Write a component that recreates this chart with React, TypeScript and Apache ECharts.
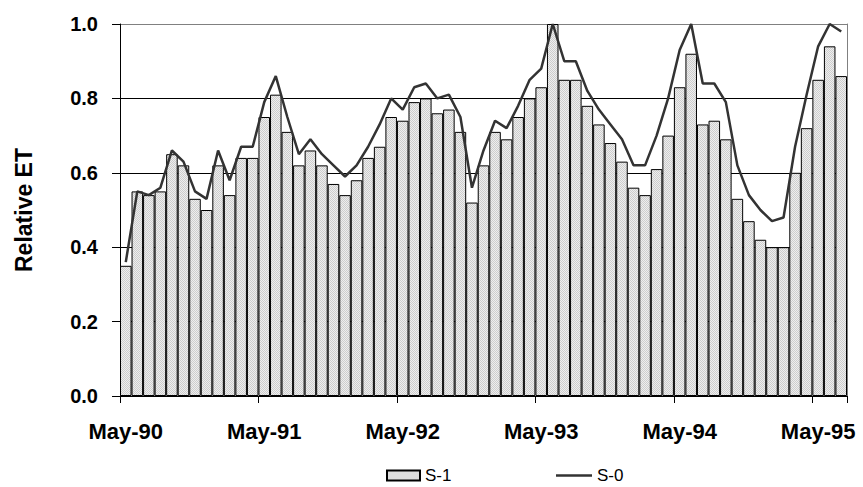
import React, { useEffect, useRef } from "react";
import * as echarts from "echarts";

const months = [
  "May-90", "Jun-90", "Jul-90", "Aug-90", "Sep-90", "Oct-90", "Nov-90", "Dec-90",
  "Jan-91", "Feb-91", "Mar-91", "Apr-91", "May-91", "Jun-91", "Jul-91", "Aug-91", "Sep-91", "Oct-91", "Nov-91", "Dec-91",
  "Jan-92", "Feb-92", "Mar-92", "Apr-92", "May-92", "Jun-92", "Jul-92", "Aug-92", "Sep-92", "Oct-92", "Nov-92", "Dec-92",
  "Jan-93", "Feb-93", "Mar-93", "Apr-93", "May-93", "Jun-93", "Jul-93", "Aug-93", "Sep-93", "Oct-93", "Nov-93", "Dec-93",
  "Jan-94", "Feb-94", "Mar-94", "Apr-94", "May-94", "Jun-94", "Jul-94", "Aug-94", "Sep-94", "Oct-94", "Nov-94", "Dec-94",
  "Jan-95", "Feb-95", "Mar-95", "Apr-95", "May-95", "Jun-95", "Jul-95",
];

const s1Values = [
  0.35, 0.55, 0.54, 0.55, 0.65, 0.62, 0.53, 0.50, 0.62, 0.54, 0.64, 0.64,
  0.75, 0.81, 0.71, 0.62, 0.66, 0.62, 0.57, 0.54, 0.58, 0.64, 0.67, 0.75,
  0.74, 0.79, 0.80, 0.76, 0.77, 0.71, 0.52, 0.62, 0.71, 0.69, 0.75, 0.80,
  0.83, 1.00, 0.85, 0.85, 0.78, 0.73, 0.68, 0.63, 0.56, 0.54, 0.61, 0.70,
  0.83, 0.92, 0.73, 0.74, 0.69, 0.53, 0.47, 0.42, 0.40, 0.40, 0.60, 0.72,
  0.85, 0.94, 0.86,
];

const s0Values = [
  0.36, 0.55, 0.54, 0.56, 0.66, 0.63, 0.55, 0.53, 0.66, 0.58, 0.67, 0.67,
  0.79, 0.86, 0.75, 0.65, 0.69, 0.65, 0.62, 0.59, 0.62, 0.67, 0.73, 0.80,
  0.77, 0.83, 0.84, 0.80, 0.81, 0.75, 0.56, 0.66, 0.74, 0.72, 0.78, 0.85,
  0.88, 1.00, 0.90, 0.90, 0.82, 0.77, 0.73, 0.69, 0.62, 0.62, 0.70, 0.80,
  0.93, 1.00, 0.84, 0.84, 0.79, 0.62, 0.54, 0.50, 0.47, 0.48, 0.67, 0.81,
  0.94, 1.00, 0.98,
];

const seriesNames = ["S-1", "S-0"];

function makePattern(): any {
  const c = document.createElement("canvas");
  c.width = 2;
  c.height = 2;
  const ctx = c.getContext("2d");
  if (!ctx) return "#dcdcdc";
  ctx.fillStyle = "#eeeeee";
  ctx.fillRect(0, 0, 2, 2);
  ctx.fillStyle = "#cdcdcd";
  ctx.fillRect(0, 0, 1, 1);
  ctx.fillRect(1, 1, 1, 1);
  return { image: c, repeat: "repeat", imageWidth: 2, imageHeight: 2 };
}

export default function App() {
  const ref = useRef<HTMLDivElement>(null);

  useEffect(() => {
    if (!ref.current) return;
    const chart = echarts.init(ref.current, null, { renderer: "svg" });
    const pattern = makePattern();
    const font = "'Liberation Sans', Arial, sans-serif";
    const legendText = { fontFamily: font, fontSize: 17, color: "#000", fontWeight: "normal" };
    chart.setOption({
      animation: false,
      backgroundColor: "#ffffff",
      textStyle: { fontFamily: font },
      grid: { left: 120, right: 16, top: 24, bottom: 91, containLabel: false },
      legend: [
        {
          data: [{ name: seriesNames[0], icon: "rect" }],
          left: 381,
          top: 462,
          itemWidth: 33,
          itemHeight: 10,
          itemGap: 6,
          textStyle: legendText,
        },
        {
          data: [{ name: seriesNames[1], icon: "rect" }],
          left: 551,
          top: 462,
          itemWidth: 36,
          itemHeight: 2.5,
          itemGap: 4,
          textStyle: legendText,
        },
      ],
      xAxis: {
        type: "category",
        data: months,
        boundaryGap: true,
        axisLine: { lineStyle: { color: "#000", width: 1 } },
        axisTick: { show: true, interval: 11, length: 7, lineStyle: { color: "#000" } },
        axisLabel: {
          interval: 11,
          margin: 24,
          fontFamily: font,
          fontSize: 22,
          fontWeight: "bold",
          color: "#000",
        },
        splitLine: { show: false },
      },
      yAxis: [
        {
          type: "value",
          min: 0,
          max: 1,
          interval: 0.2,
          name: "Relative ET",
          nameLocation: "middle",
          nameGap: 85,
          nameTextStyle: { fontFamily: font, fontSize: 23, fontWeight: "bold", color: "#000" },
          axisLine: { show: true, lineStyle: { color: "#000", width: 1 } },
          axisTick: { show: true, length: 8, lineStyle: { color: "#000" } },
          axisLabel: {
            formatter: (v: number) => v.toFixed(1),
            margin: 22,
            fontFamily: font,
            fontSize: 20,
            fontWeight: "bold",
            color: "#000",
          },
          splitLine: {
            show: true,
            lineStyle: { color: ["#000", "#000", "#000", "#000", "#000", "#808080"], width: 1 },
          },
        },
        {
          type: "value",
          min: 0,
          max: 1,
          interval: 0.2,
          position: "right",
          axisLine: { show: true, lineStyle: { color: "#808080", width: 1 } },
          axisTick: { show: false },
          axisLabel: { show: false },
          splitLine: { show: false },
        },
      ],
      series: [
        {
          name: seriesNames[0],
          type: "bar",
          data: s1Values,
          barCategoryGap: "0%",
          itemStyle: { color: pattern, borderColor: "#000", borderWidth: 1 },
          z: 2,
        },
        {
          name: seriesNames[1],
          type: "line",
          data: s0Values,
          symbol: "none",
          showSymbol: false,
          lineStyle: { color: "#333333", width: 2.5 },
          itemStyle: { color: "#333333" },
          z: 3,
        },
      ],
    });
    return () => chart.dispose();
  }, []);

  return (
    <div
      ref={ref}
      style={{ position: "fixed", left: 0, top: 0, width: 863, height: 487, background: "#fff" }}
    />
  );
}
